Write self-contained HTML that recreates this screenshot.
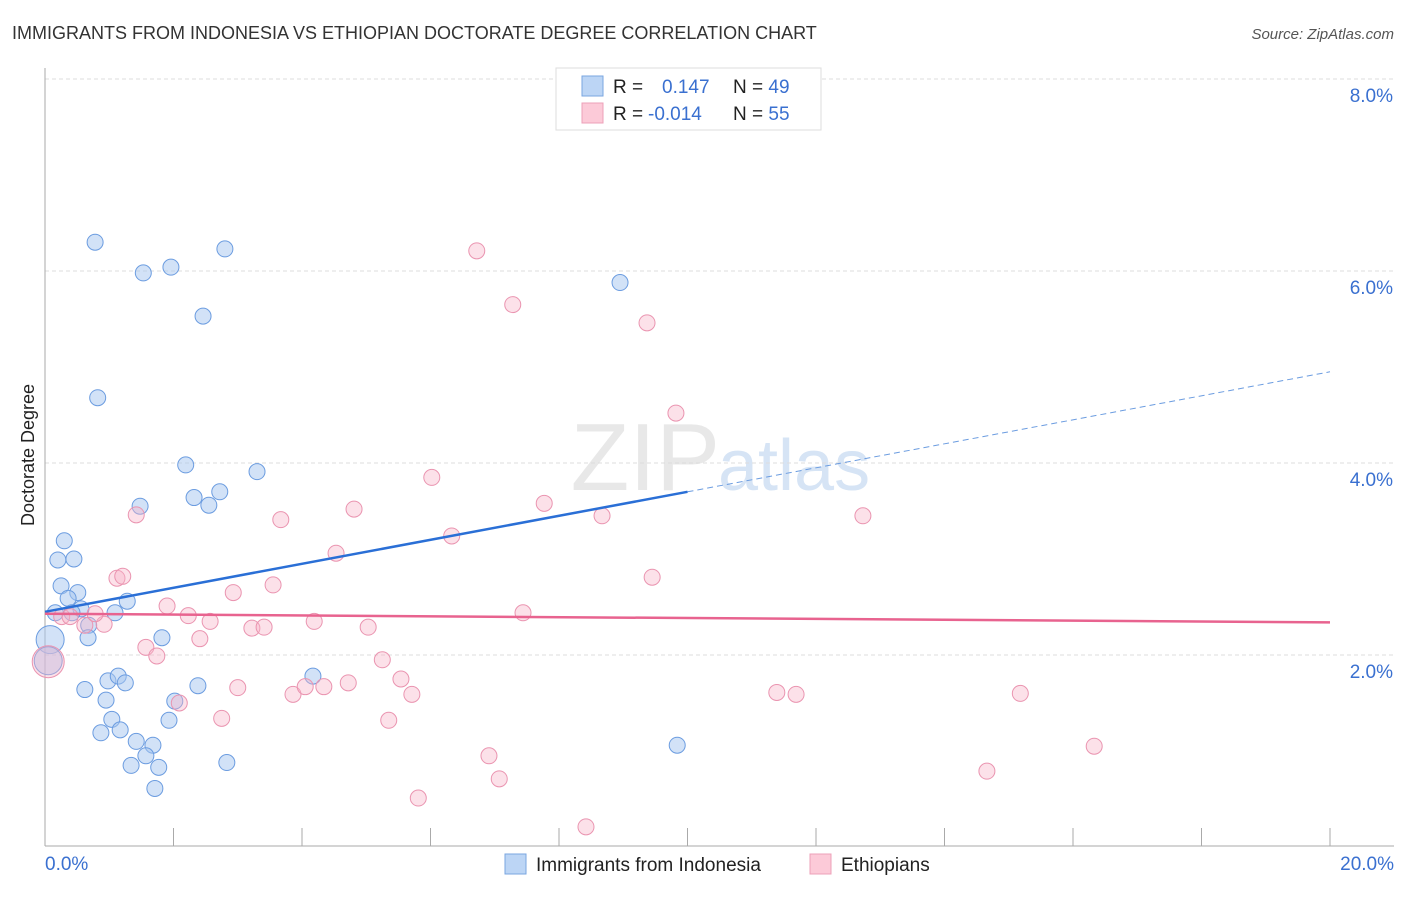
<!DOCTYPE html>
<html><head><meta charset="utf-8"><style>
body{margin:0;background:#fff;font-family:"Liberation Sans",sans-serif;}
svg text{font-family:"Liberation Sans",sans-serif;}
</style></head><body>
<svg id="chart" width="1406" height="892">
<text x="12" y="39" font-size="18" fill="#333">IMMIGRANTS FROM INDONESIA VS ETHIOPIAN DOCTORATE DEGREE CORRELATION CHART</text>
<text x="1394" y="39" font-size="15" fill="#555" font-style="italic" text-anchor="end">Source: ZipAtlas.com</text>
<text x="34" y="455" font-size="18" fill="#222" text-anchor="middle" transform="rotate(-90 34 455)">Doctorate Degree</text>
<text x="720" y="490" font-size="96" fill="#e8e8e8" text-anchor="end" font-family="Liberation Serif">ZIP</text>
<text x="718" y="490" font-size="72" fill="#d6e4f5">atlas</text>
<g id="grid"></g><g id="axes"></g><g id="pts"></g><g id="trend"></g>
<g>
<rect x="556" y="68" width="265" height="62" fill="#fff" stroke="#ddd"/>
<rect x="582" y="76" width="21" height="20" fill="#bcd5f5" stroke="#7aa6e0"/>
<rect x="582" y="103" width="21" height="20" fill="#fccad8" stroke="#eda0b8"/>
<text x="613" y="93" font-size="19" fill="#222">R = <tspan fill="#3a70d0" x="662">0.147</tspan><tspan fill="#222" x="733">N = </tspan><tspan fill="#3a70d0">49</tspan></text>
<text x="613" y="120" font-size="19" fill="#222">R = <tspan fill="#3a70d0" x="648">-0.014</tspan><tspan fill="#222" x="733">N = </tspan><tspan fill="#3a70d0">55</tspan></text>
</g>
<g>
<rect x="505" y="854" width="21" height="20" fill="#bcd5f5" stroke="#7aa6e0"/>
<text x="536" y="871" font-size="19" fill="#222">Immigrants from Indonesia</text>
<rect x="810" y="854" width="21" height="20" fill="#fccad8" stroke="#eda0b8"/>
<text x="841" y="871" font-size="19" fill="#222">Ethiopians</text>
</g>
</svg>
<script>
const blueX=[0.78,1.53,1.96,2.80,2.46,8.95,0.82,2.19,3.30,1.48,2.32,2.55,2.72,0.30,0.20,0.45,0.25,0.51,0.36,0.56,0.16,0.42,1.09,1.28,0.68,0.67,1.82,0.08,0.05,0.62,0.95,0.98,1.14,1.25,2.02,2.38,4.17,1.04,1.93,0.87,1.17,1.42,1.68,1.57,1.77,1.34,1.71,2.83,9.84];
const blueY=[6.30,5.98,6.04,6.23,5.53,5.88,4.68,3.98,3.91,3.55,3.64,3.56,3.70,3.19,2.99,3.00,2.72,2.65,2.59,2.48,2.44,2.44,2.44,2.56,2.31,2.18,2.18,2.16,1.94,1.64,1.53,1.73,1.78,1.71,1.52,1.68,1.78,1.33,1.32,1.19,1.22,1.10,1.06,0.95,0.83,0.85,0.61,0.88,1.06];
const blueBig=[27,28];
const pinkX=[6.72,7.28,9.37,9.82,6.02,1.42,4.81,3.67,7.77,8.67,12.73,6.33,4.53,1.12,1.21,3.55,2.93,9.45,1.90,2.23,2.57,4.19,7.44,0.26,0.62,0.92,0.78,3.22,3.41,5.03,1.57,1.74,2.41,5.25,3.00,3.86,4.05,4.34,4.72,5.54,5.71,11.39,11.69,15.18,2.09,2.75,5.35,6.91,16.33,7.07,14.66,5.81,8.42,0.05,0.39];
const pinkY=[6.21,5.65,5.46,4.52,3.85,3.46,3.52,3.41,3.58,3.45,3.45,3.24,3.06,2.80,2.82,2.73,2.65,2.81,2.51,2.41,2.35,2.35,2.44,2.40,2.31,2.32,2.43,2.28,2.29,2.29,2.08,1.99,2.17,1.95,1.66,1.59,1.67,1.67,1.71,1.75,1.59,1.61,1.59,1.60,1.50,1.34,1.32,0.95,1.05,0.71,0.79,0.51,0.21,1.93,2.40];
const pinkBig=[53];
const yTicks=[2,4,6,8];
const yTickLabels=["2.0%","4.0%","6.0%","8.0%"];
const xTickLabels=["0.0%","20.0%"];
const blueTrend=[2.45,4.95];
const pinkTrend=[2.43,2.34];
const NS="http://www.w3.org/2000/svg";
const sx=v=>45+64.25*v, sy=v=>847-96*v;
function mk(tag,attrs,parent){const e=document.createElementNS(NS,tag);for(const k in attrs)e.setAttribute(k,attrs[k]);document.getElementById(parent).appendChild(e);return e;}
yTicks.forEach((t,i)=>{
 const l=mk('line',{x1:45,x2:1394,y1:sy(t),y2:sy(t),stroke:'#ddd','stroke-dasharray':'4 3'},'grid');
 
 
 const tx=mk('text',{x:1393,y:sy(t)+23,'font-size':19,fill:'#3a70d0','text-anchor':'end'},'grid');
 tx.textContent=yTickLabels[i];
 
 
});
const ya=mk('line',{x1:45,x2:45,y1:68,y2:846,stroke:'#aaa'},'axes');


const xa=mk('line',{x1:45,x2:1394,y1:846,y2:846,stroke:'#aaa'},'axes');


for(let v=0;v<=20;v+=2){
 const tk=mk('line',{x1:sx(v),x2:sx(v),y1:828,y2:846,stroke:'#aaa'},'axes');
 
 
}
[[0,'start',45],[1,'end',1394]].forEach(([i,a,x])=>{
 const t=mk('text',{x:x,y:870,'font-size':19,fill:'#3a70d0','text-anchor':a},'axes');
 t.textContent=xTickLabels[i];
 
 
});
blueX.forEach((x,i)=>{
 const c=mk('circle',{cx:sx(x),cy:sy(blueY[i]),r:blueBig.includes(i)?14:8,fill:'rgba(165,198,240,0.5)',stroke:'#6b9ce0','stroke-width':1},'pts');
 
 
});
pinkX.forEach((x,i)=>{
 const c=mk('circle',{cx:sx(x),cy:sy(pinkY[i]),r:pinkBig.includes(i)?16:8,fill:'rgba(248,180,200,0.4)',stroke:'#ea94b0','stroke-width':1},'pts');
 
 
});
const bs=(blueTrend[1]-blueTrend[0])/20, xm=10;
const b1=mk('line',{x1:sx(0),y1:sy(blueTrend[0]),x2:sx(xm),y2:sy(blueTrend[0]+bs*xm),stroke:'#2a6fd6','stroke-width':2.5},'trend');


const b2=mk('line',{x1:sx(xm),y1:sy(blueTrend[0]+bs*xm),x2:sx(20),y2:sy(blueTrend[1]),stroke:'#6b9ce0','stroke-width':1,'stroke-dasharray':'6 4'},'trend');


const p1=mk('line',{x1:sx(0),y1:sy(pinkTrend[0]),x2:sx(20),y2:sy(pinkTrend[1]),stroke:'#e8638f','stroke-width':2.5},'trend');


</script>
</body></html>
